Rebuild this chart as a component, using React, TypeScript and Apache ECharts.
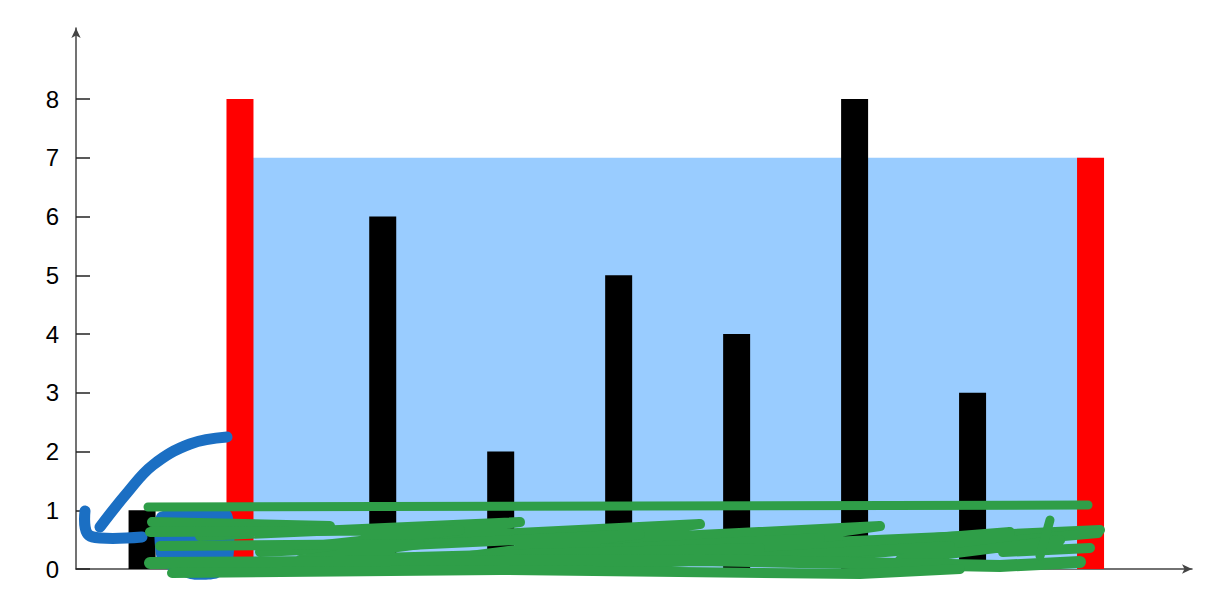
import { useEffect, useRef } from "react";
import * as echarts from "echarts";

// bar positions (in slot units) and heights
const positions = [-0.04, 0.79, 2, 3, 4, 5, 6, 7, 8];
const heights = [1, 8, 6, 2, 5, 4, 8, 3, 7];
const barColors = ["#000", "#ff0000", "#000", "#000", "#000", "#000", "#000", "#000", "#ff0000"];
const yTicks = [0, 1, 2, 3, 4, 5, 6, 7, 8];
// water held between the two red walls
const water = [[0.79, 8, 7]];

const BLUE = "#1b6fc3";
const GREEN = "#2f9e48";

const scribble = (points: number[][], width: number, color: string, smooth = 0) => ({
  type: "polyline",
  z: 100,
  shape: { points, smooth },
  style: { stroke: color, lineWidth: width, lineCap: "round", lineJoin: "round", fill: null },
  silent: true,
});

export default function App() {
  const chartRef = useRef<HTMLDivElement | null>(null);

  useEffect(() => {
    document.body.style.margin = "0";
    if (!chartRef.current) return;
    const chart = echarts.init(chartRef.current, null, { renderer: "svg" });

    const option = {
      animation: false,
      backgroundColor: "#fff",
      grid: { left: 76, right: 30, top: 28, bottom: 36, containLabel: false, outerBoundsMode: "none" },
      xAxis: {
        type: "value",
        min: -0.6,
        max: 8.86,
        axisLine: {
          show: true,
          onZero: false,
          symbol: ["none", "arrow"],
          symbolSize: [7, 10],
          lineStyle: { color: "#444", width: 1.5 },
        },
        axisTick: { show: false },
        axisLabel: { show: false },
        splitLine: { show: false },
      },
      yAxis: {
        type: "value",
        min: 0,
        max: 9.21,
        interval: 1,
        axisLine: {
          show: true,
          onZero: false,
          symbol: ["none", "arrow"],
          symbolSize: [7, 10],
          lineStyle: { color: "#444", width: 1.5 },
        },
        axisTick: {
          show: true,
          inside: true,
          length: 14,
          customValues: yTicks,
          lineStyle: { color: "#222", width: 1.5 },
        },
        axisLabel: {
          customValues: yTicks,
          margin: 17,
          color: "#000",
          fontSize: 24,
          fontFamily: "Liberation Sans, Arial, sans-serif",
        },
        splitLine: { show: false },
      },
      series: [
        {
          type: "custom",
          z: 1,
          data: water,
          renderItem: (_params: any, api: any) => {
            const p0 = api.coord([api.value(0), api.value(2)]);
            const p1 = api.coord([api.value(1), 0]);
            return {
              type: "rect",
              shape: { x: p0[0], y: p0[1], width: p1[0] - p0[0], height: p1[1] - p0[1] },
              style: { fill: "#99ccff" },
            };
          },
        },
        {
          type: "bar",
          z: 2,
          barWidth: 27,
          data: positions.map((x, i) => ({
            value: [x, heights[i]],
            itemStyle: { color: barColors[i] },
          })),
        },
      ],
      graphic: [
        // blue blob under the scribbles
        {
          type: "polygon",
          z: 99,
          shape: { points: [[158, 513], [230, 511], [233, 560], [218, 578], [190, 579], [158, 562]], smooth: 0.2 },
          style: { fill: BLUE },
          silent: true,
        },
        // blue arrow
        scribble([[227, 437], [190, 444], [153, 465], [127, 493], [100, 527]], 11, BLUE, 0.4),
        scribble([[85, 511], [87, 533], [100, 538], [142, 537]], 11, BLUE, 0.4),
        // green scribbles
        scribble([[148, 507], [1088, 505]], 9, GREEN),
        scribble([[152, 522], [330, 526], [200, 536], [520, 522], [380, 540], [700, 524], [560, 542], [880, 526], [740, 546], [1100, 530]], 10, GREEN),
        scribble([[150, 532], [460, 530], [260, 552], [640, 534], [470, 556], [820, 538], [660, 560], [1010, 532], [840, 556], [1098, 533]], 10, GREEN),
        scribble([[160, 546], [420, 544], [300, 560], [760, 548], [600, 566], [950, 546], [900, 560], [1060, 540], [1003, 552], [1090, 548]], 10, GREEN),
        scribble([[150, 563], [700, 560], [1000, 566], [1080, 562]], 12, GREEN),
        scribble([[172, 573], [500, 570], [860, 574], [960, 569]], 10, GREEN),
        scribble([[1050, 520], [1040, 556]], 9, GREEN),
      ],
    };

    chart.setOption(option);
    return () => {
      chart.dispose();
    };
  }, []);

  return <div ref={chartRef} style={{ width: 1222, height: 605 }} />;
}
